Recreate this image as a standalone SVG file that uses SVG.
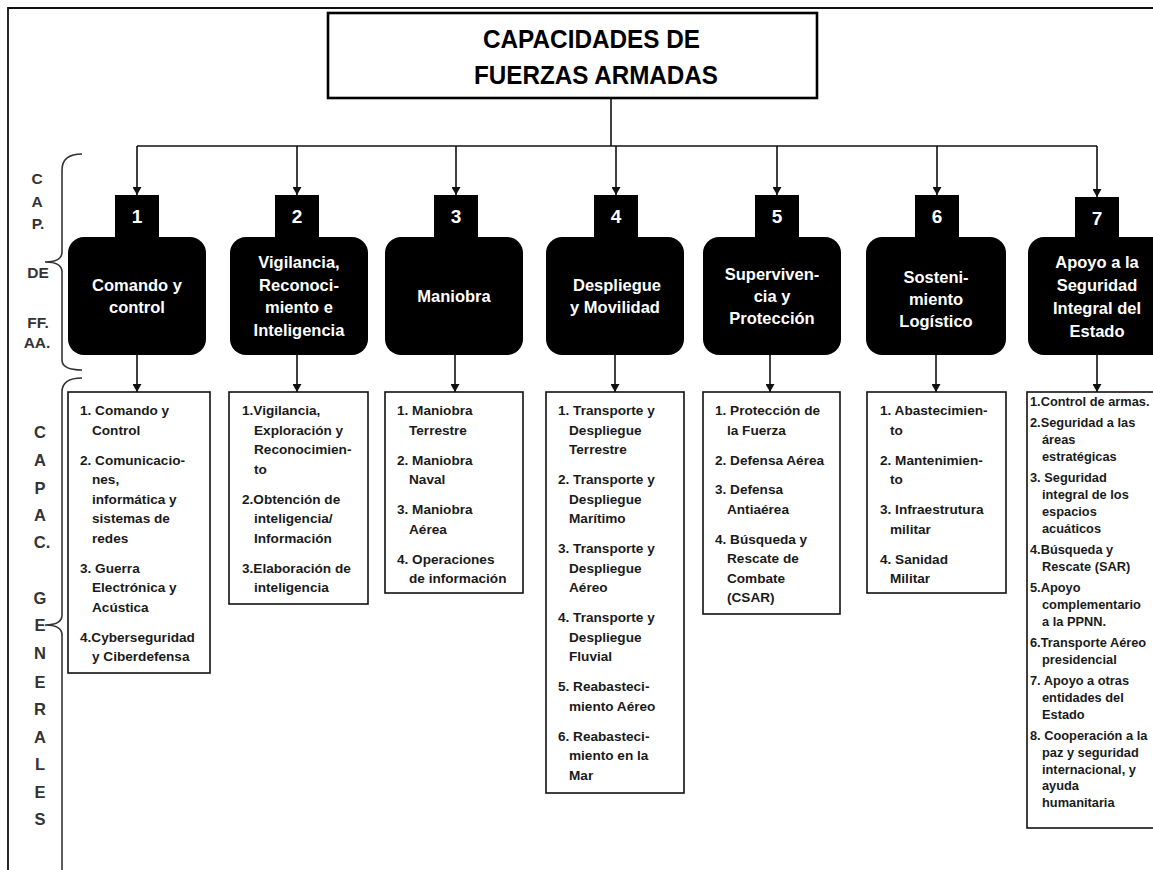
<svg xmlns="http://www.w3.org/2000/svg" width="1153" height="870" viewBox="0 0 1153 870">
<defs>
<style>
.bg{fill:#fff}
.frame{fill:none;stroke:#111;stroke-width:1.8}
.conn{fill:none;stroke:#111;stroke-width:1.6}
.brace{fill:none;stroke:#333;stroke-width:1.6}
.title{fill:#fff;stroke:#000;stroke-width:2.6}
.titletxt{font-family:"Liberation Sans",Arial,sans-serif;font-weight:bold;font-size:25.5px;fill:#000}
.blk{fill:#000}
.num{font-family:"Liberation Sans",Arial,sans-serif;font-weight:bold;font-size:19px;fill:#fff;text-anchor:middle}
.lbl{font-family:"Liberation Sans",Arial,sans-serif;font-weight:bold;font-size:16.5px;fill:#fff;text-anchor:middle}
.list{fill:#fff;stroke:#111;stroke-width:1.6}
.li{font-family:"Liberation Sans",Arial,sans-serif;font-weight:bold;font-size:13.6px;fill:#1a1a1a}
.li7{font-family:"Liberation Sans",Arial,sans-serif;font-weight:bold;font-size:12.8px;fill:#1a1a1a}
.side{font-family:"Liberation Sans",Arial,sans-serif;font-weight:bold;font-size:15.5px;fill:#333;text-anchor:middle}
.side2{font-family:"Liberation Sans",Arial,sans-serif;font-weight:bold;font-size:16.5px;fill:#333;text-anchor:middle}
</style>
<marker id="ah" viewBox="0 0 8 9" refX="8" refY="4.5" markerWidth="8" markerHeight="9" markerUnits="userSpaceOnUse" orient="auto">
<path d="M0,0 L8,4.5 L0,9 z" fill="#111"/>
</marker>
</defs>
<rect class="bg" x="0" y="0" width="1153" height="870"/>

<g id="frame">
<path class="frame" d="M8,870 V8 H1153"/>
</g>

<g id="side-labels">
<path class="brace" d="M82,154 Q62,154 62,170 V252 Q62,262 45,262 Q62,262 62,272 V360 Q62,370 82,370"/>
<path class="brace" d="M82,378 Q62,378 62,392 V615 Q62,625 45,625 Q62,625 62,635 V870"/>
<text class="side" x="37" y="184">C</text>
<text class="side" x="37" y="207">A</text>
<text class="side" x="38" y="229">P.</text>
<text class="side" x="38" y="278">DE</text>
<text class="side" x="38" y="328">FF.</text>
<text class="side" x="37" y="348">AA.</text>
<text class="side2" x="40" y="438">C</text>
<text class="side2" x="40" y="466">A</text>
<text class="side2" x="40" y="494">P</text>
<text class="side2" x="40" y="521">A</text>
<text class="side2" x="42" y="548">C.</text>
<text class="side2" x="40" y="604">G</text>
<text class="side2" x="40" y="631">E</text>
<text class="side2" x="40" y="659">N</text>
<text class="side2" x="40" y="688">E</text>
<text class="side2" x="40" y="715">R</text>
<text class="side2" x="40" y="743">A</text>
<text class="side2" x="40" y="770">L</text>
<text class="side2" x="40" y="798">E</text>
<text class="side2" x="40" y="825">S</text>
</g>

<g id="title">
<rect class="title" x="328" y="13" width="489" height="85"/>
<text class="titletxt" x="483" y="48" textLength="217" lengthAdjust="spacingAndGlyphs">CAPACIDADES DE</text>
<text class="titletxt" x="474" y="84" textLength="244" lengthAdjust="spacingAndGlyphs">FUERZAS ARMADAS</text>
</g>

<g id="connectors">
<path class="conn" d="M611,98 V146"/>
<path class="conn" d="M137,146 H1097"/>
<path class="conn" marker-end="url(#ah)" d="M137,146 V195"/>
<path class="conn" marker-end="url(#ah)" d="M297,146 V195"/>
<path class="conn" marker-end="url(#ah)" d="M456,146 V195"/>
<path class="conn" marker-end="url(#ah)" d="M616,146 V195"/>
<path class="conn" marker-end="url(#ah)" d="M777,146 V195"/>
<path class="conn" marker-end="url(#ah)" d="M937,146 V195"/>
<path class="conn" marker-end="url(#ah)" d="M1097,146 V197"/>
<path class="conn" marker-end="url(#ah)" d="M137,355 V392"/>
<path class="conn" marker-end="url(#ah)" d="M297,355 V392"/>
<path class="conn" marker-end="url(#ah)" d="M455,355 V392"/>
<path class="conn" marker-end="url(#ah)" d="M615,355 V392"/>
<path class="conn" marker-end="url(#ah)" d="M770,355 V392"/>
<path class="conn" marker-end="url(#ah)" d="M936,355 V392"/>
<path class="conn" marker-end="url(#ah)" d="M1097,355 V392"/>
</g>

<g id="cap1">
<rect class="blk" x="115" y="195" width="44" height="50"/>
<rect class="blk" x="68" y="237" width="138" height="118" rx="16"/>
<text class="num" x="137" y="223">1</text>
<text class="lbl" x="137" y="291">Comando y</text>
<text class="lbl" x="137" y="313">control</text>
</g>

<g id="cap2">
<rect class="blk" x="275" y="195" width="44" height="50"/>
<rect class="blk" x="230" y="237" width="138" height="118" rx="16"/>
<text class="num" x="297" y="223">2</text>
<text class="lbl" x="299" y="268">Vigilancia,</text>
<text class="lbl" x="299" y="291">Reconoci-</text>
<text class="lbl" x="299" y="313">miento e</text>
<text class="lbl" x="299" y="336">Inteligencia</text>
</g>

<g id="cap3">
<rect class="blk" x="434" y="195" width="44" height="50"/>
<rect class="blk" x="385" y="237" width="138" height="118" rx="16"/>
<text class="num" x="456" y="223">3</text>
<text class="lbl" x="454" y="302">Maniobra</text>
</g>

<g id="cap4">
<rect class="blk" x="594" y="195" width="44" height="50"/>
<rect class="blk" x="546" y="237" width="138" height="118" rx="16"/>
<text class="num" x="616" y="223">4</text>
<text class="lbl" x="617" y="291">Despliegue</text>
<text class="lbl" x="615" y="313">y Movilidad</text>
</g>

<g id="cap5">
<rect class="blk" x="755" y="195" width="44" height="50"/>
<rect class="blk" x="703" y="237" width="138" height="118" rx="16"/>
<text class="num" x="777" y="223">5</text>
<text class="lbl" x="772" y="280">Superviven-</text>
<text class="lbl" x="772" y="302">cia y</text>
<text class="lbl" x="772" y="324">Protección</text>
</g>

<g id="cap6">
<rect class="blk" x="915" y="195" width="44" height="50"/>
<rect class="blk" x="866" y="237" width="140" height="118" rx="16"/>
<text class="num" x="937" y="223">6</text>
<text class="lbl" x="936" y="283">Sosteni-</text>
<text class="lbl" x="936" y="305">miento</text>
<text class="lbl" x="936" y="327">Logístico</text>
</g>

<g id="cap7">
<rect class="blk" x="1075" y="197" width="44" height="48"/>
<rect class="blk" x="1028" y="237" width="140" height="118" rx="16"/>
<text class="num" x="1097" y="225">7</text>
<text class="lbl" x="1097" y="268">Apoyo a la</text>
<text class="lbl" x="1097" y="291">Seguridad</text>
<text class="lbl" x="1097" y="314">Integral del</text>
<text class="lbl" x="1097" y="337">Estado</text>
</g>

<g id="list1">
<rect class="list" x="68" y="392" width="142" height="281"/>
<text class="li" x="80" y="415">1. Comando y</text>
<text class="li" x="92" y="434.5">Control</text>
<text class="li" x="80" y="464.5">2. Comunicacio-</text>
<text class="li" x="92" y="484">nes,</text>
<text class="li" x="92" y="503.5">informática y</text>
<text class="li" x="92" y="523">sistemas de</text>
<text class="li" x="92" y="542.5">redes</text>
<text class="li" x="80" y="572.5">3. Guerra</text>
<text class="li" x="92" y="592">Electrónica y</text>
<text class="li" x="92" y="611.5">Acústica</text>
<text class="li" x="80" y="641.5">4.Cyberseguridad</text>
<text class="li" x="92" y="661">y Ciberdefensa</text>
</g>

<g id="list2">
<rect class="list" x="229" y="392" width="139" height="212"/>
<text class="li" x="242" y="415">1.Vigilancia,</text>
<text class="li" x="254" y="434.5">Exploración y</text>
<text class="li" x="254" y="454">Reconocimien-</text>
<text class="li" x="254" y="473.5">to</text>
<text class="li" x="242" y="503.5">2.Obtención de</text>
<text class="li" x="254" y="523">inteligencia/</text>
<text class="li" x="254" y="542.5">Información</text>
<text class="li" x="242" y="572.5">3.Elaboración de</text>
<text class="li" x="254" y="592">inteligencia</text>
</g>

<g id="list3">
<rect class="list" x="385" y="392" width="138" height="201"/>
<text class="li" x="397" y="415">1. Maniobra</text>
<text class="li" x="409" y="434.5">Terrestre</text>
<text class="li" x="397" y="464.5">2. Maniobra</text>
<text class="li" x="409" y="484">Naval</text>
<text class="li" x="397" y="514">3. Maniobra</text>
<text class="li" x="409" y="533.5">Aérea</text>
<text class="li" x="397" y="563.5">4. Operaciones</text>
<text class="li" x="409" y="583">de información</text>
</g>

<g id="list4">
<rect class="list" x="546" y="392" width="138" height="401"/>
<text class="li" x="558" y="415">1. Transporte y</text>
<text class="li" x="569" y="434.5">Despliegue</text>
<text class="li" x="569" y="454">Terrestre</text>
<text class="li" x="558" y="484">2. Transporte y</text>
<text class="li" x="569" y="503.5">Despliegue</text>
<text class="li" x="569" y="523">Marítimo</text>
<text class="li" x="558" y="553">3. Transporte y</text>
<text class="li" x="569" y="572.5">Despliegue</text>
<text class="li" x="569" y="592">Aéreo</text>
<text class="li" x="558" y="622">4. Transporte y</text>
<text class="li" x="569" y="641.5">Despliegue</text>
<text class="li" x="569" y="661">Fluvial</text>
<text class="li" x="558" y="691">5. Reabasteci-</text>
<text class="li" x="569" y="710.5">miento Aéreo</text>
<text class="li" x="558" y="740.5">6. Reabasteci-</text>
<text class="li" x="569" y="760">miento en la</text>
<text class="li" x="569" y="779.5">Mar</text>
</g>

<g id="list5">
<rect class="list" x="703" y="392" width="137" height="222"/>
<text class="li" x="715" y="415">1. Protección de</text>
<text class="li" x="727" y="434.5">la Fuerza</text>
<text class="li" x="715" y="464.5">2. Defensa Aérea</text>
<text class="li" x="715" y="494">3. Defensa</text>
<text class="li" x="727" y="513.5">Antiaérea</text>
<text class="li" x="715" y="543.5">4. Búsqueda y</text>
<text class="li" x="727" y="563">Rescate de</text>
<text class="li" x="727" y="582.5">Combate</text>
<text class="li" x="727" y="602">(CSAR)</text>
</g>

<g id="list6">
<rect class="list" x="867" y="392" width="139" height="201"/>
<text class="li" x="880" y="415">1. Abastecimien-</text>
<text class="li" x="890" y="434.5">to</text>
<text class="li" x="880" y="464.5">2. Mantenimien-</text>
<text class="li" x="890" y="484">to</text>
<text class="li" x="880" y="514">3. Infraestrutura</text>
<text class="li" x="890" y="533.5">militar</text>
<text class="li" x="880" y="563.5">4. Sanidad</text>
<text class="li" x="890" y="583">Militar</text>
</g>

<g id="list7">
<rect class="list" x="1027" y="392" width="143" height="436"/>
<text class="li7" x="1030" y="406">1.Control de armas.</text>
<text class="li7" x="1030" y="427.3">2.Seguridad a las</text>
<text class="li7" x="1042" y="444.1">áreas</text>
<text class="li7" x="1042" y="460.9">estratégicas</text>
<text class="li7" x="1030" y="482.2">3.  Seguridad</text>
<text class="li7" x="1042" y="499">integral de los</text>
<text class="li7" x="1042" y="515.8">espacios</text>
<text class="li7" x="1042" y="532.6">acuáticos</text>
<text class="li7" x="1030" y="553.9">4.Búsqueda y</text>
<text class="li7" x="1042" y="570.7">Rescate (SAR)</text>
<text class="li7" x="1030" y="592">5.Apoyo</text>
<text class="li7" x="1042" y="608.8">complementario</text>
<text class="li7" x="1042" y="625.6">a la PPNN.</text>
<text class="li7" x="1030" y="646.9">6.Transporte Aéreo</text>
<text class="li7" x="1042" y="663.7">presidencial</text>
<text class="li7" x="1030" y="685">7. Apoyo a otras</text>
<text class="li7" x="1042" y="701.8">entidades del</text>
<text class="li7" x="1042" y="718.6">Estado</text>
<text class="li7" x="1030" y="739.9">8. Cooperación a la</text>
<text class="li7" x="1042" y="756.7">paz y seguridad</text>
<text class="li7" x="1042" y="773.5">internacional, y</text>
<text class="li7" x="1042" y="790.3">ayuda</text>
<text class="li7" x="1042" y="807.1">humanitaria</text>
</g>
</svg>
